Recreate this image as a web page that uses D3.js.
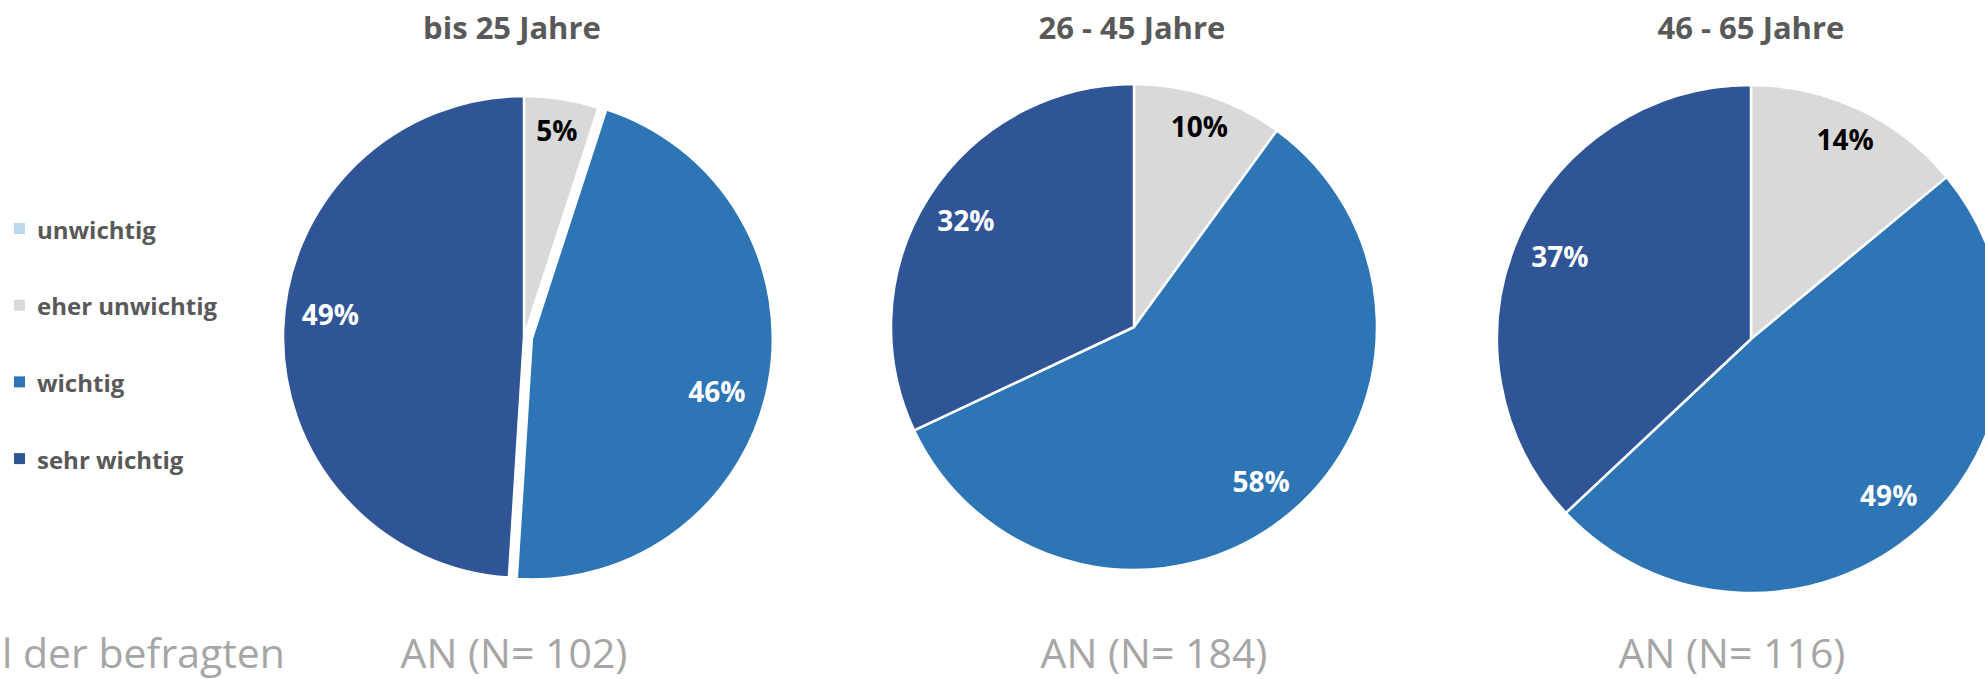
<!DOCTYPE html>
<html>
<head>
<meta charset="utf-8">
<script src="https://cdn.jsdelivr.net/npm/d3@7"></script>
<style>
  body { margin: 0; background: #fff; }
  svg { display: block; font-family: "Open Sans", sans-serif; }
</style>
</head>
<body>
<svg id="chart" width="1985" height="679"></svg>
<script>
// Data
const categories = ["unwichtig", "eher unwichtig", "wichtig", "sehr wichtig"];
const groups = ["bis 25 Jahre", "26 - 45 Jahre", "46 - 65 Jahre"];
const sampleSizes = [102, 184, 116];
const valuesBis25 = [0, 5, 46, 49];
const values26to45 = [0, 10, 58, 32];
const values46to65 = [0, 14, 49, 37];
const groupValues = [valuesBis25, values26to45, values46to65];

// Colours
const colors = ["#BDD7EE", "#D9D9D9", "#2E75B6", "#2F5597"];
const labelColors = ["#000", "#000", "#fff", "#fff"];
const labelRatio = [0.87, 0.87, 0.82, 0.82];

const svg = d3.select("#chart");

// Layout of the three pies (the picture is cropped left and right)
const pieLayout = [
    { cx: 524, cy: 337, r: 241, titleX: 512, footX: 514,
      explode: { "wichtig": 8 },
      nudge: { "wichtig": [-9, 15], "sehr wichtig": [4, -17] } },
    { cx: 1134, cy: 327, r: 243, titleX: 1132, footX: 1154, explode: {}, nudge: {} },
    { cx: 1751, cy: 339, r: 254, titleX: 1751, footX: 1732, explode: {}, nudge: {} }
];

const pie = d3.pie().sort(null).value(d => d.value);

groups.forEach((title, gi) => {
    const L = pieLayout[gi];
    const data = categories.map((c, i) => ({ category: c, value: groupValues[gi][i], idx: i }));
    const arcs = pie(data);

    const arc = d3.arc().innerRadius(0).outerRadius(L.r);

    const g = svg.append("g").attr("transform", `translate(${L.cx},${L.cy})`);

    const slice = g.selectAll(".slice")
        .data(arcs.filter(d => d.data.value > 0))
        .join("g")
        .attr("class", "slice")
        .attr("transform", d => {
            const off = L.explode[d.data.category] || 0;
            const a = (d.startAngle + d.endAngle) / 2;
            return `translate(${off * Math.sin(a)},${-off * Math.cos(a)})`;
        });

    slice.append("path")
        .attr("d", arc)
        .attr("fill", d => colors[d.data.idx])
        .attr("stroke", "#fff")
        .attr("stroke-width", 2.5)
        .attr("stroke-linejoin", "round");

    slice.append("text")
        .attr("transform", d => {
            const rr = L.r * labelRatio[d.data.idx];
            const [x, y] = d3.arc().innerRadius(rr).outerRadius(rr).centroid(d);
            const [nx, ny] = L.nudge[d.data.category] || [0, 0];
            return `translate(${x + nx},${y + ny})`;
        })
        .attr("text-anchor", "middle")
        .attr("dominant-baseline", "central")
        .attr("fill", d => labelColors[d.data.idx])
        .style("font-size", "28px")
        .style("font-weight", 700)
        .text(d => d.data.value + "%");

    // Title
    svg.append("text")
        .attr("x", L.titleX)
        .attr("y", 39)
        .attr("text-anchor", "middle")
        .attr("fill", "#595959")
        .style("font-size", "31px")
        .style("font-weight", 700)
        .text(title);

    // Footer
    svg.append("text")
        .attr("x", L.footX)
        .attr("y", 668)
        .attr("text-anchor", "middle")
        .attr("fill", "#A6A6A6")
        .style("font-size", "41px")
        .style("font-weight", 400)
        .text(`AN (N= ${sampleSizes[gi]})`);
});

// Axis text, cropped at the left edge in the original
svg.append("text")
    .attr("x", 2)
    .attr("y", 668)
    .attr("text-anchor", "start")
    .attr("fill", "#A6A6A6")
    .style("font-size", "41px")
    .style("font-weight", 400)
    .text("l der befragten");

// Legend
const legend = svg.append("g").attr("transform", "translate(14, 229)");
categories.forEach((c, i) => {
    const row = legend.append("g").attr("transform", `translate(0, ${i * 76.7})`);
    row.append("rect")
        .attr("x", 0)
        .attr("y", -6)
        .attr("width", 11)
        .attr("height", 11)
        .attr("fill", colors[i]);
    row.append("text")
        .attr("x", 23)
        .attr("y", 0)
        .attr("dominant-baseline", "central")
        .attr("fill", "#595959")
        .style("font-size", "24px")
        .style("font-weight", 700)
        .text(c);
});
</script>
</body>
</html>
